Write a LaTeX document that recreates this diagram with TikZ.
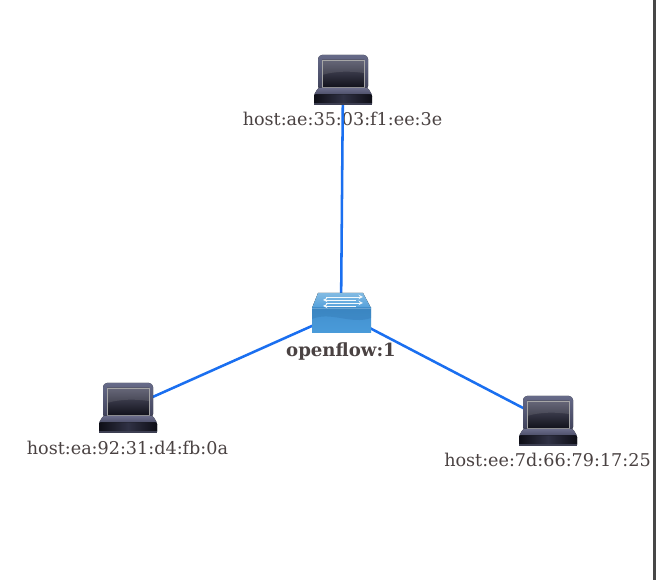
\documentclass[tikz,border=0pt]{standalone}
\usepackage{fontspec}
\setmainfont{DejaVu Serif}
\definecolor{txt}{HTML}{4A4242}
\definecolor{lnk}{HTML}{1A6FF0}
\definecolor{bezelT}{HTML}{666A88}
\definecolor{bezelB}{HTML}{3E4058}
\definecolor{scrT}{HTML}{55566A}
\definecolor{scrB}{HTML}{12121C}
\definecolor{baseT}{HTML}{6A6C8A}
\definecolor{baseB}{HTML}{0E0E16}
\definecolor{swT}{HTML}{8CC0E4}
\definecolor{swF}{HTML}{4A9BDA}
\definecolor{swD}{HTML}{2B6FA8}
\tikzset{
  x=0.75pt,y=-0.75pt,
  hostlabel/.style={text=txt,inner sep=0pt,font=\fontsize{13.2pt}{16pt}\selectfont,anchor=center},
  swlabel/.style={text=txt,inner sep=0pt,font=\fontsize{13.6pt}{16pt}\selectfont\bfseries,anchor=center},
  anchorbox/.style={inner sep=0pt,minimum size=1pt},
  linkline/.style={draw=lnk,line width=1.9pt},
  swarrow/.style={draw=white!90!swT,line width=0.5pt,-{stealth}},
  pics/laptop/.style={code={
    \fill[top color=bezelT,bottom color=bezelB,rounded corners=3pt] (-25,-25) -- (25,-25) -- (25,10) -- (-25,10) -- cycle;
    \fill[top color=scrT,bottom color=scrB] (-21,-20) rectangle (21,7);
    \fill[white,opacity=0.10] (-21,-20) -- (21,-20) -- (21,-7) .. controls (8,-9) and (-8,-9) .. (-21,-5) -- cycle;
    \draw[draw=gray!70!white,line width=0.45pt] (-21,-20) rectangle (21,7);
    \fill[top color=baseT,bottom color=bezelB,rounded corners=1pt] (-25,8) -- (25,8) -- (29,15) -- (29,18) -- (-29,18) -- (-29,15) -- cycle;
    \fill[left color=baseB,right color=baseB,middle color=bezelB!70!baseB,rounded corners=1pt] (-29,14.5) rectangle (29,25);
    \fill[bezelT!60!black] (-29,23.5) rectangle (29,25);
  }},
  pics/switchicon/.style={code={
    \fill[top color=swT!85!swF,bottom color=swF!85!swT] (-29,-5) -- (-23,-20) -- (22,-20) -- (30,-5) -- cycle;
    \fill[top color=swF!75!swD,bottom color=swF] (-29,-5) rectangle (30,20);
    \fill[swD,opacity=0.30] (-29,6) .. controls (-10,-2) and (10,12) .. (30,5) -- (30,-5) -- (-29,-5) -- cycle;
    \fill[swT!60!white,opacity=0.35] (-29,-5) -- (30,-5) -- (30,-3.5) -- (-29,-3.5) -- cycle;
    \draw[swarrow] (-15,-16) -- (22,-16);
    \draw[swarrow] (15,-13) -- (-18,-13);
    \draw[swarrow] (-15,-10) -- (22,-10);
    \draw[swarrow] (15,-7) -- (-18,-7);
  }}
}
\begin{document}
\begin{tikzpicture}
\useasboundingbox (0,0) rectangle (657,580);
\fill[white] (0,0) rectangle (657,580);
\fill[black!72] (653,0) rectangle (656,580);
\node[hostlabel] (lt) at (342.5,119) {host:ae:35:03:f1:ee:3e};
\node[hostlabel] (ll) at (127.5,448) {host:ea:92:31:d4:fb:0a};
\node[hostlabel] (lr) at (547.5,460) {host:ee:7d:66:79:17:25};
\node[swlabel] (ls) at (341,352) {openflow:1};
\node[anchorbox] (ht) at (343,80) {};
\node[anchorbox] (hl) at (128,408) {};
\node[anchorbox] (hr) at (548,421) {};
\node[anchorbox] (sw) at (341,313) {};
\draw[linkline] (ht.center) -- (sw.center);
\draw[linkline] (hl.center) -- (sw.center);
\draw[linkline] (hr.center) -- (sw.center);
\pic at (ht) {laptop};
\pic at (hl) {laptop};
\pic at (hr) {laptop};
\pic at (sw) {switchicon};
\end{tikzpicture}
\end{document}
